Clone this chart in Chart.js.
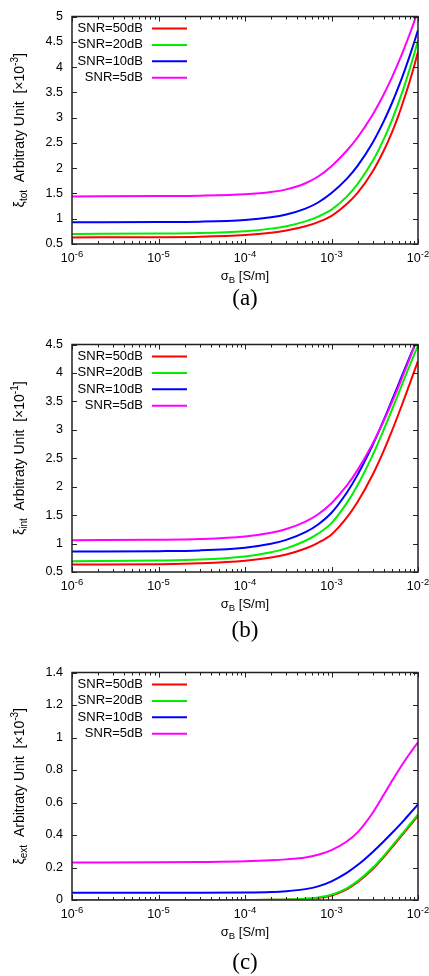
<!DOCTYPE html>
<html>
<head>
<meta charset="utf-8">
<script src="https://cdn.jsdelivr.net/npm/chart.js@4.4.0/dist/chart.umd.min.js"></script>
<style>
  body { margin: 0; background: #fff; width: 429px; height: 976px; overflow: hidden; }
  .panel { position: absolute; left: 0; width: 429px; height: 320px; }
  .panel canvas { display: block; }
  .caption {
    position: absolute; left: 72px; width: 346px; text-align: center;
    font-family: "Liberation Serif", "Times New Roman", serif; font-size: 23px; line-height: 26px; color: #000;
  }
</style>
</head>
<body>
<div class="panel" style="top:0px">
  <canvas id="chart-a" width="429" height="290"></canvas>
  <div class="caption" style="top:285px">(a)</div>
</div>
<div class="panel" style="top:328px">
  <canvas id="chart-b" width="429" height="290"></canvas>
  <div class="caption" style="top:289px">(b)</div>
</div>
<div class="panel" style="top:656px">
  <canvas id="chart-c" width="429" height="290"></canvas>
  <div class="caption" style="top:293px">(c)</div>
</div>
<script>
// conductivity samples, S/m
const sigma = [1e-6, 1e-5, 3e-5, 1e-4, 2e-4, 3e-4, 5e-4, 7e-4, 1e-3, 1.5e-3, 2e-3, 3e-3, 4e-3, 5e-3, 6e-3, 7e-3, 8e-3, 9e-3, 1e-2];
const snrLabels = ['SNR=50dB', 'SNR=20dB', 'SNR=10dB', 'SNR=5dB'];
const snrColors = ['#ff0000', '#00ee00', '#0000ff', '#ff00ff'];
const xTickExps = [-6, -5, -4, -3, -2];

// (a) total error, x1e-3
const totSnr50 = [0.63, 0.635, 0.645, 0.678, 0.722, 0.766, 0.851, 0.934, 1.057, 1.29, 1.51, 1.94, 2.34, 2.71, 3.06, 3.40, 3.71, 4.01, 4.30];
const totSnr20 = [0.70, 0.706, 0.717, 0.754, 0.804, 0.852, 0.948, 1.041, 1.179, 1.437, 1.685, 2.145, 2.566, 2.952, 3.31, 3.643, 3.956, 4.249, 4.528];
const totSnr10 = [0.93, 0.934, 0.942, 0.976, 1.029, 1.084, 1.20, 1.321, 1.509, 1.788, 2.045, 2.509, 2.92, 3.289, 3.623, 3.931, 4.217, 4.481, 4.732];
const totSnr5  = [1.44, 1.45, 1.456, 1.482, 1.527, 1.58, 1.702, 1.835, 2.04, 2.345, 2.607, 3.062, 3.452, 3.797, 4.106, 4.389, 4.649, 4.89, 5.118];
const totTicks = [0.5, 1, 1.5, 2, 2.5, 3, 3.5, 4, 4.5, 5];

// (b) internal error, x1e-1
const intSnr50 = [0.631, 0.638, 0.653, 0.697, 0.755, 0.809, 0.914, 1.014, 1.16, 1.455, 1.73, 2.215, 2.627, 2.982, 3.291, 3.563, 3.804, 4.018, 4.211];
const intSnr20 = [0.691, 0.701, 0.718, 0.774, 0.847, 0.916, 1.049, 1.175, 1.36, 1.711, 2.026, 2.559, 2.995, 3.353, 3.653, 3.909, 4.129, 4.317, 4.483];
const intSnr10 = [0.86, 0.867, 0.88, 0.928, 0.996, 1.064, 1.20, 1.336, 1.541, 1.893, 2.208, 2.738, 3.167, 3.52, 3.814, 4.063, 4.276, 4.459, 4.618];
const intSnr5  = [1.06, 1.067, 1.08, 1.125, 1.19, 1.255, 1.385, 1.515, 1.71, 2.017, 2.291, 2.761, 3.154, 3.487, 3.774, 4.028, 4.252, 4.452, 4.633];
const intTicks = [0.5, 1, 1.5, 2, 2.5, 3, 3.5, 4, 4.5];

// (c) external error, x1e-3
const extSnr50 = [0, 0, 0, 0.0003, 0.0008, 0.002, 0.006, 0.013, 0.028, 0.066, 0.109, 0.19, 0.262, 0.324, 0.374, 0.418, 0.455, 0.488, 0.518];
const extSnr20 = [0, 0, 0, 0.0005, 0.001, 0.003, 0.008, 0.016, 0.032, 0.072, 0.116, 0.198, 0.27, 0.332, 0.382, 0.426, 0.463, 0.496, 0.527];
const extSnr10 = [0.045, 0.045, 0.045, 0.046, 0.049, 0.054, 0.067, 0.084, 0.115, 0.167, 0.215, 0.296, 0.36, 0.412, 0.456, 0.495, 0.53, 0.561, 0.589];
const extSnr5  = [0.231, 0.232, 0.234, 0.238, 0.244, 0.25, 0.262, 0.279, 0.307, 0.36, 0.416, 0.537, 0.646, 0.732, 0.80, 0.855, 0.90, 0.938, 0.97];
const extTicks = [0, 0.2, 0.4, 0.6, 0.8, 1, 1.2, 1.4];

const FONT = '"Liberation Sans", Arial, sans-serif';

// draw a run of text pieces with their own size and vertical shift
function drawRich(ctx, parts, x, y) {
  let total = 0;
  parts.forEach(p => { ctx.font = p.size + 'px ' + FONT; p.w = ctx.measureText(p.t).width; total += p.w; });
  let cx = x - total / 2;
  ctx.textAlign = 'left';
  ctx.textBaseline = 'alphabetic';
  parts.forEach(p => {
    ctx.font = p.size + 'px ' + FONT;
    ctx.fillText(p.t, cx, y + (p.dy || 0));
    cx += p.w;
  });
}

// gnuplot style frame: border, inward ticks, key, axis labels
const gnuplotFrame = {
  id: 'gnuplotFrame',
  afterDatasetsDraw(chart, args, opts) {
    const { ctx, chartArea: a, scales: { x, y } } = chart;
    ctx.save();
    ctx.strokeStyle = '#222';
    ctx.fillStyle = '#000';

    ctx.lineWidth = 1;
    ctx.beginPath();
    xTickExps.forEach(e => {
      for (let m = 1; m <= 9; m++) {
        const v = m * Math.pow(10, e);
        if (v > x.max * 1.0001) break;
        const px = Math.round(x.getPixelForValue(v)) + 0.5;
        const len = m === 1 ? 5 : 3;
        ctx.moveTo(px, a.bottom); ctx.lineTo(px, a.bottom - len);
        ctx.moveTo(px, a.top); ctx.lineTo(px, a.top + len);
      }
    });
    y.ticks.forEach(t => {
      const py = Math.round(y.getPixelForValue(t.value)) + 0.5;
      ctx.moveTo(a.left, py); ctx.lineTo(a.left + 5, py);
      ctx.moveTo(a.right, py); ctx.lineTo(a.right - 5, py);
    });
    ctx.stroke();

    ctx.lineWidth = 1.5;
    ctx.strokeRect(a.left, a.top, a.right - a.left, a.bottom - a.top);

    // key
    chart.data.datasets.forEach((ds, i) => {
      const ky = a.top + 12 + i * 16.4;
      ctx.font = '13px ' + FONT;
      ctx.textAlign = 'right';
      ctx.textBaseline = 'middle';
      ctx.fillText(ds.label, a.left + 71, ky);
      ctx.strokeStyle = ds.borderColor;
      ctx.lineWidth = 2;
      ctx.beginPath();
      ctx.moveTo(a.left + 80, ky); ctx.lineTo(a.left + 115, ky);
      ctx.stroke();
    });

    // x tick labels as powers of ten
    xTickExps.forEach(e => {
      const px = x.getPixelForValue(Math.pow(10, e));
      drawRich(ctx, [{ t: '10', size: 12.5 }, { t: String(e), size: 9.5, dy: -5.5 }], px, a.bottom + 18);
    });

    // x axis title
    drawRich(ctx, [{ t: '\u03c3', size: 13 }, { t: 'B', size: 9.5, dy: 3 }, { t: ' [S/m]', size: 13 }],
      (a.left + a.right) / 2, a.bottom + 36);

    // y axis title
    ctx.translate(24, (a.top + a.bottom) / 2);
    ctx.rotate(-Math.PI / 2);
    drawRich(ctx, [
      { t: '\u03be', size: 14 }, { t: opts.yName, size: 10, dy: 3 },
      { t: '  Arbitraty Unit  [\u00d710', size: 14 }, { t: opts.yExp, size: 10, dy: -6 },
      { t: ']', size: 14 }
    ], 0, 0);
    ctx.restore();
  }
};

function makePanel(id, series, ticks, yName, yExp) {
  const datasets = series.map((vals, i) => ({
    label: snrLabels[i],
    data: sigma.map((s, k) => ({ x: s, y: vals[k] })),
    borderColor: snrColors[i],
    borderWidth: 2,
    pointRadius: 0,
    fill: false,
    cubicInterpolationMode: 'monotone',
    order: series.length - i
  }));
  return new Chart(document.getElementById(id), {
    type: 'line',
    data: { datasets },
    plugins: [gnuplotFrame],
    options: {
      responsive: false,
      animation: false,
      layout: { padding: { top: 11, right: 11, left: 0, bottom: 0 } },
      plugins: {
        legend: { display: false },
        tooltip: { enabled: false },
        gnuplotFrame: { yName, yExp }
      },
      scales: {
        x: {
          type: 'logarithmic',
          min: 1e-6,
          max: 1e-2,
          grid: { display: false, drawTicks: false },
          border: { display: false },
          ticks: { display: false },
          afterFit: s => { s.height = 46; }
        },
        y: {
          min: ticks[0],
          max: ticks[ticks.length - 1],
          afterBuildTicks: s => { s.ticks = ticks.map(v => ({ value: v })); },
          grid: { display: false, drawTicks: false },
          border: { display: false },
          ticks: {
            padding: 9,
            color: '#000',
            font: { family: FONT, size: 12.5 },
            callback: v => String(+v.toFixed(2))
          },
          afterFit: s => { s.width = 72; }
        }
      }
    }
  });
}

makePanel('chart-a', [totSnr50, totSnr20, totSnr10, totSnr5], totTicks, 'tot', '-3');
makePanel('chart-b', [intSnr50, intSnr20, intSnr10, intSnr5], intTicks, 'int', '-1');
makePanel('chart-c', [extSnr50, extSnr20, extSnr10, extSnr5], extTicks, 'ext', '-3');
</script>
</body>
</html>
